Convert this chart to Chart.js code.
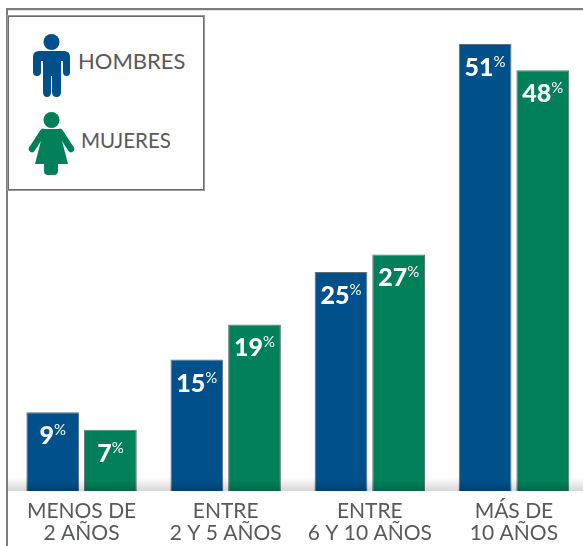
<!DOCTYPE html>
<html>
<head>
<meta charset="utf-8">
<script src="https://cdn.jsdelivr.net/npm/chart.js@4"></script>
<style>
html, body { margin: 0; padding: 0; background: #fff; width: 583px; height: 546px; overflow: hidden; }
#wrap { position: relative; width: 583px; height: 546px; overflow: hidden; }
#canvas { position: absolute; left: 0; top: 0; }
#frame { position: absolute; left: 6px; top: 8px; width: 600px; height: 600px; border-left: 2px solid #7d7d7d; border-top: 2px solid #7d7d7d; box-shadow: inset 0 1px 0 #e2e2e2; }
#legend { position: absolute; left: 8px; top: 16px; width: 194px; height: 172px; border: 1px solid #6b6b6b; outline: 1px solid #9a9a9a; background: #fff; font-family: Lato, sans-serif; color: #58595b; font-size: 22px; }
#legend svg { position: absolute; left: 0; top: 0; }
#legend span { position: absolute; line-height: 26px; }
</style>
</head>
<body>
<div id="wrap">
    <div id="frame"></div>
    <canvas id="canvas" width="590" height="546" style="width:590px;height:546px"></canvas>
    <div id="legend">
        <svg width="194" height="172" viewBox="8 16 194 172">
            <g fill="#00508c">
                <circle cx="50.5" cy="41" r="8"/>
                <path d="M38 50 H63 Q69 50 69 56 V71 Q69 75 65.5 75 Q62 75 62 71 V60 H60 V91 Q60 96 55.5 96 Q51 96 51 91 V75 H50 V91 Q50 96 46 96 Q42 96 42 91 V60 H40 V71 Q40 75 36 75 Q32 75 32 71 V56 Q32 50 38 50 Z"/>
            </g>
            <g fill="#007f5b">
                <circle cx="50.5" cy="119" r="8"/>
                <path d="M43 128 H58 L67 163 H57 V170 Q57 174 53 174 H47 Q43 174 43 170 V163 H34 Z"/>
            </g>
            <g stroke="#007f5b" stroke-width="6.5" stroke-linecap="round" fill="none">
                <path d="M42 131 L31 148"/>
                <path d="M59 131 L70 148"/>
            </g>
        </svg>
        <span style="left:69px;top:31px">HOMBRES</span>
        <span style="left:72px;top:110px;font-size:20.5px">MUJERES</span>
    </div>
</div>
<script>
const categories = [["MENOS DE", "2 AÑOS"], ["ENTRE", "2 Y 5 AÑOS"], ["ENTRE", "6 Y 10 AÑOS"], ["MÁS DE", "10 AÑOS"]];
const hombres = [9, 15, 25, 51];
const mujeres = [7, 19, 27, 48];

// sombra sobre la linea base, detras de las barras
const baseShadow = {
    id: "baseShadow",
    beforeDatasetsDraw(chart) {
        const ctx = chart.ctx;
        const bottom = chart.chartArea.bottom;
        const grad = ctx.createLinearGradient(0, bottom - 14, 0, bottom);
        grad.addColorStop(0, "rgba(120,120,120,0)");
        grad.addColorStop(1, "rgba(120,120,120,0.3)");
        ctx.save();
        ctx.fillStyle = grad;
        ctx.fillRect(8, bottom - 14, 575, 14);
        ctx.restore();
    },
    afterDatasetsDraw(chart) {
        const ctx = chart.ctx;
        const bottom = chart.chartArea.bottom;
        const grad = ctx.createLinearGradient(0, bottom - 10, 0, bottom);
        grad.addColorStop(0, "rgba(0,0,0,0)");
        grad.addColorStop(1, "rgba(0,0,0,0.2)");
        ctx.save();
        ctx.fillStyle = grad;
        chart.data.datasets.forEach((ds, i) => {
            chart.getDatasetMeta(i).data.forEach(bar => {
                ctx.fillRect(bar.x - bar.width / 2, bottom - 10, bar.width, 10);
            });
        });
        ctx.restore();
    }
};

// etiquetas blancas: numero en negrita y % pequeno arriba
const valueLabels = {
    id: "valueLabels",
    afterDatasetsDraw(chart) {
        const ctx = chart.ctx;
        ctx.save();
        ctx.fillStyle = "#fff";
        ctx.textBaseline = "alphabetic";
        ctx.textAlign = "left";
        chart.data.datasets.forEach((ds, i) => {
            chart.getDatasetMeta(i).data.forEach((bar, j) => {
                const num = String(ds.data[j]);
                ctx.font = "900 25px Lato";
                const w1 = ctx.measureText(num).width;
                ctx.font = "400 15px Lato";
                const w2 = ctx.measureText("%").width;
                const x = bar.x - (w1 + w2) / 2;
                const y = bar.y + 32;
                ctx.font = "900 25px Lato";
                ctx.fillText(num, x, y);
                ctx.font = "400 15px Lato";
                ctx.fillText("%", x + w1, y - 9);
            });
        });
        ctx.restore();
    }
};

const ctx = document.getElementById("canvas").getContext("2d");
new Chart(ctx, {
    type: "bar",
    data: {
        labels: categories,
        datasets: [
            { label: "HOMBRES", data: hombres, backgroundColor: "#00508c", borderColor: "#5c6f7c", borderWidth: 1 },
            { label: "MUJERES", data: mujeres, backgroundColor: "#007f5b", borderColor: "#5f7a70", borderWidth: 1 }
        ]
    },
    options: {
        responsive: false,
        animation: false,
        categoryPercentage: 0.8,
        barPercentage: 0.915,
        layout: { padding: { left: 9.5, right: 4, top: 9, bottom: 0 } },
        plugins: { legend: { display: false }, tooltip: { enabled: false } },
        scales: {
            y: { display: false, min: 0, max: 55 },
            x: {
                grid: { display: false },
                border: { display: false },
                afterFit(scale) { scale.height = 55; },
                ticks: {
                    color: "#58595b",
                    padding: 1,
                    maxRotation: 0,
                    autoSkip: false,
                    font: { family: "Lato", size: 21, lineHeight: 1.05 }
                }
            }
        }
    },
    plugins: [baseShadow, valueLabels]
});
</script>
</body>
</html>
